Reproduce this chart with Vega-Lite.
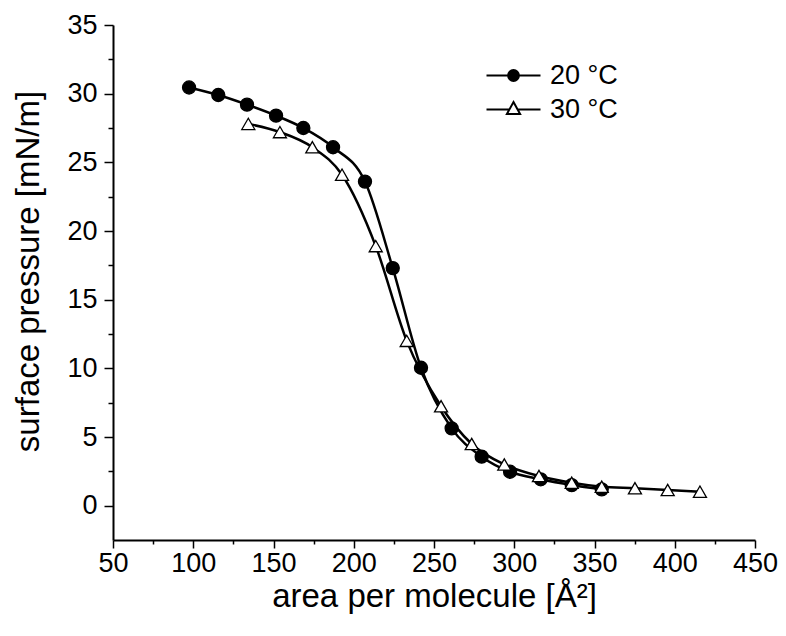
{
  "$schema": "https://vega.github.io/schema/vega-lite/v6.json",
  "width": 642,
  "height": 515,
  "autosize": {"type": "none"},
  "padding": {"left": 113, "top": 25, "right": 31, "bottom": 96},
  "background": "white",
  "config": {
    "view": {"stroke": null},
    "font": "Liberation Sans",
    "axis": {
      "grid": false,
      "domainColor": "black",
      "domainWidth": 2,
      "tickColor": "black",
      "tickWidth": 1.5,
      "labelColor": "black",
      "titleColor": "black",
      "labelFont": "Liberation Sans",
      "titleFont": "Liberation Sans",
      "labelFontSize": 27,
      "titleFontSize": 33,
      "titleFontWeight": "normal",
      "labelOverlap": false,
      "labelFlush": false,
      "labelBound": false
    },
    "legend": {
      "labelFont": "Liberation Sans",
      "labelFontSize": 27,
      "labelColor": "black"
    }
  },
  "data": {
    "values": [
      {"series": "20 °C", "area": 97.4, "pressure": 30.45},
      {"series": "20 °C", "area": 115.6, "pressure": 29.9},
      {"series": "20 °C", "area": 133.5, "pressure": 29.2},
      {"series": "20 °C", "area": 151.6, "pressure": 28.4},
      {"series": "20 °C", "area": 168.6, "pressure": 27.5},
      {"series": "20 °C", "area": 187.1, "pressure": 26.1},
      {"series": "20 °C", "area": 207.0, "pressure": 23.6},
      {"series": "20 °C", "area": 224.3, "pressure": 17.3},
      {"series": "20 °C", "area": 241.9, "pressure": 10.04},
      {"series": "20 °C", "area": 261.0, "pressure": 5.63},
      {"series": "20 °C", "area": 279.7, "pressure": 3.57},
      {"series": "20 °C", "area": 297.4, "pressure": 2.47},
      {"series": "20 °C", "area": 316.5, "pressure": 1.92},
      {"series": "20 °C", "area": 335.8, "pressure": 1.5},
      {"series": "20 °C", "area": 354.5, "pressure": 1.19},
      {"series": "30 °C", "area": 134.3, "pressure": 27.8},
      {"series": "30 °C", "area": 154.0, "pressure": 27.2},
      {"series": "30 °C", "area": 174.2, "pressure": 26.1},
      {"series": "30 °C", "area": 192.7, "pressure": 24.1},
      {"series": "30 °C", "area": 213.7, "pressure": 18.9},
      {"series": "30 °C", "area": 233.0, "pressure": 12.0},
      {"series": "30 °C", "area": 254.4, "pressure": 7.24},
      {"series": "30 °C", "area": 273.5, "pressure": 4.49},
      {"series": "30 °C", "area": 293.8, "pressure": 3.0},
      {"series": "30 °C", "area": 315.4, "pressure": 2.16},
      {"series": "30 °C", "area": 335.8, "pressure": 1.67},
      {"series": "30 °C", "area": 354.5, "pressure": 1.38},
      {"series": "30 °C", "area": 375.2, "pressure": 1.27},
      {"series": "30 °C", "area": 395.6, "pressure": 1.14},
      {"series": "30 °C", "area": 415.7, "pressure": 1.02}
    ]
  },
  "encoding": {
    "x": {
      "field": "area",
      "type": "quantitative",
      "scale": {"domain": [50, 450], "nice": false, "zero": false},
      "axis": {
        "title": "area per molecule [Å²]",
        "values": [50, 75, 100, 125, 150, 175, 200, 225, 250, 275, 300, 325, 350, 375, 400, 425, 450],
        "labelExpr": "datum.value % 50 === 0 ? datum.label : ''",
        "tickSize": {"condition": {"test": "datum.value % 50 === 0", "value": 8}, "value": 4},
        "labelPadding": 2,
        "titlePadding": 4
      }
    },
    "y": {
      "field": "pressure",
      "type": "quantitative",
      "scale": {"domain": [-2.5, 35], "nice": false, "zero": false},
      "axis": {
        "title": "surface pressure [mN/m]",
        "values": [0, 2.5, 5, 7.5, 10, 12.5, 15, 17.5, 20, 22.5, 25, 27.5, 30, 32.5, 35],
        "labelExpr": "datum.value % 5 === 0 ? datum.label : ''",
        "tickSize": {"condition": {"test": "datum.value % 5 === 0", "value": 9}, "value": 5},
        "labelPadding": 7,
        "titlePadding": 21,
        "titleY": 246
      }
    }
  },
  "resolve": {"scale": {"shape": "independent"}},
  "layer": [
    {
      "mark": {"type": "line", "interpolate": "monotone", "color": "black", "strokeWidth": 2.5},
      "encoding": {"detail": {"field": "series"}}
    },
    {
      "mark": {"type": "point", "filled": true, "opacity": 1, "stroke": "black", "strokeWidth": 1.3, "size": 170},
      "encoding": {
        "shape": {
          "field": "series",
          "type": "nominal",
          "scale": {"domain": ["20 °C", "30 °C"], "range": ["circle", "triangle-up"]},
          "legend": null
        },
        "fill": {
          "field": "series",
          "type": "nominal",
          "scale": {"domain": ["20 °C", "30 °C"], "range": ["black", "white"]},
          "legend": null
        }
      }
    },
    {
      "mark": {"type": "point", "opacity": 0, "size": 144},
      "encoding": {
        "shape": {
          "field": "series",
          "type": "nominal",
          "scale": {
            "domain": ["20 °C", "30 °C"],
            "range": [
              "M-4.5,0L4.5,0M0.9,0C0.9,0.497 0.497,0.9 0,0.9C-0.497,0.9 -0.9,0.497 -0.9,0C-0.9,-0.497 -0.497,-0.9 0,-0.9C0.497,-0.9 0.9,-0.497 0.9,0ZM0.63,0C0.63,0.348 0.348,0.63 0,0.63C-0.348,0.63 -0.63,0.348 -0.63,0C-0.63,-0.348 -0.348,-0.63 0,-0.63C0.348,-0.63 0.63,-0.348 0.63,0ZM0.36,0C0.36,0.199 0.199,0.36 0,0.36C-0.199,0.36 -0.36,0.199 -0.36,0C-0.36,-0.199 -0.199,-0.36 0,-0.36C0.199,-0.36 0.36,-0.199 0.36,0ZM0.1,0C0.1,0.055 0.055,0.1 0,0.1C-0.055,0.1 -0.1,0.055 -0.1,0C-0.1,-0.055 -0.055,-0.1 0,-0.1C0.055,-0.1 0.1,-0.055 0.1,0Z",
              "M-4.5,0L-0.69,0M0.69,0L4.5,0M0,-1.25L1.1,0.75L-1.1,0.75Z"
            ]
          },
          "legend": {
            "title": null,
            "orient": "none",
            "legendX": 387,
            "legendY": 37,
            "padding": 0,
            "symbolSize": 144,
            "symbolFillColor": "white",
            "symbolStrokeColor": "black",
            "symbolStrokeWidth": 2,
            "symbolOpacity": 1,
            "labelOffset": 23,
            "rowPadding": 6
          }
        }
      }
    }
  ]
}
